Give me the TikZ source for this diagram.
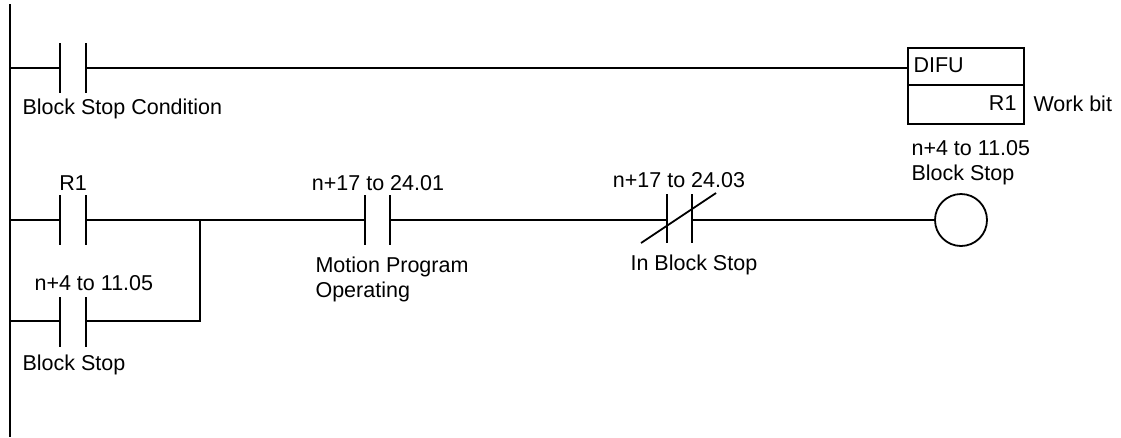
\documentclass[tikz,border=0pt]{standalone}
\usepackage{fontspec}
\setmainfont{Liberation Sans}
\begin{document}
\begin{tikzpicture}[x=1pt,y=-1pt,line width=1.1pt,
  lbl/.style={font=\fontsize{21.5}{25}\selectfont,inner sep=0pt,align=left},
  plate/.style={line width=2.2pt}]
\useasboundingbox (0,0) rectangle (1121,437);
\coordinate (railtop) at (10,4); \coordinate (railbot) at (10,437);
\draw[line width=1.6pt] (railtop) -- (railbot);
% rung 1
\coordinate (r1a) at (10,68);
\draw (r1a) -- (60,68); \draw[plate] (60,43) -- (60,93); \draw[plate] (86,43) -- (86,93);
\node[draw,line width=2.2pt,minimum width=116pt,minimum height=37pt,anchor=north west,inner sep=0pt] (difu) at (907,47) {};
\node[draw,line width=2.2pt,minimum width=116pt,minimum height=39pt,anchor=north west,inner sep=0pt] (difub) at (907,84) {};
\draw (86,68) -- (difu.west |- 0,68);
\node[lbl,anchor=west] (difut) at (913,65) {DIFU};
\node[lbl,anchor=east] (r1t) at (1017,103) {R1};
\node[lbl,anchor=west] (wb) at (1033,104) {Work bit};
\node[lbl,anchor=west] (bsc) at (22,109) {Block Stop Condition};
% rung 2
\coordinate (r2a) at (10,220);
\draw (r2a) -- (60,220); \draw[plate] (60,195) -- (60,245); \draw[plate] (86,195) -- (86,245);
\node[lbl] (lr1) at (73,183) {R1};
\draw (10,321) -- (60,321); \draw[plate] (60,297) -- (60,347); \draw[plate] (86,297) -- (86,347);
\node[lbl,anchor=west] (l114a) at (34,283) {n+4 to 11.05};
\node[lbl,anchor=west] (lbs) at (22,365) {Block Stop};
\coordinate (br) at (200,220);
\draw (86,321) -- (200,321) -- (br);
\draw (86,220) -- (365,220);
\draw[plate] (365,195) -- (365,245); \draw[plate] (390,195) -- (390,245);
\node[lbl] (l2401) at (378,183) {n+17 to 24.01};
\node[lbl,anchor=north west,align=left] (lmpo) at (315,256) {Motion Program\\Operating};
\draw (390,220) -- (667,220);
\draw[plate] (667,194) -- (667,243); \draw[plate] (692,194) -- (692,243);
\draw[line width=1.8pt] (641,243) -- (716,193);
\node[lbl] (l2403) at (679,180) {n+17 to 24.03};
\node[lbl,anchor=west] (libs) at (630,265) {In Block Stop};
\node[draw,line width=1.8pt,circle,minimum size=52pt,inner sep=0pt] (coil) at (961,220) {};
\draw (692,220) -- (coil.west);
\node[lbl,anchor=north west] (lcoil) at (911,140) {n+4 to 11.05\\Block Stop};
\end{tikzpicture}
\end{document}
